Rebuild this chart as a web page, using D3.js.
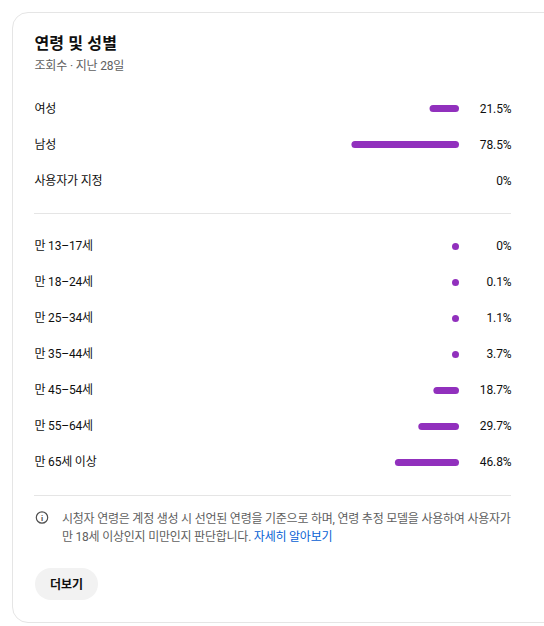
<!DOCTYPE html>
<html lang="ko"><head><meta charset="utf-8">
<script src="https://cdn.jsdelivr.net/npm/d3@7"></script>
<style>
html,body{margin:0;padding:0;background:#fff;overflow:hidden}
text{font-family:Roboto,"Noto Sans CJK KR",sans-serif}
</style></head><body>
<svg id="c" width="544" height="626"></svg>
<script>
const genderLabels = ["여성","남성","사용자가 지정"];
const genderValues = [21.5,78.5,0];
const genderText = ["21.5%","78.5%","0%"];
const ageLabels = ["만 13–17세","만 18–24세","만 25–34세","만 35–44세","만 45–54세","만 55–64세","만 65세 이상"];
const ageValues = [0,0.1,1.1,3.7,18.7,29.7,46.8];
const ageText = ["0%","0.1%","1.1%","3.7%","18.7%","29.7%","46.8%"];
const titleText = "연령 및 성별";
const subtitleText = "조회수 · 지난 28일";
const noteLine1 = "시청자 연령은 계정 생성 시 선언된 연령을 기준으로 하며, 연령 추정 모델을 사용하여 사용자가";
const noteLine2 = "만 18세 이상인지 미만인지 판단합니다. ";
const noteLink = "자세히 알아보기";
const buttonText = "더보기";

const svg = d3.select("#c");
const purple = "#9130bd", rule = "#e5e5e5";
const x = d3.scaleLinear().domain([0,100]).range([0,137]);
const barRight = 459, barH = 7, minW = 7, labelX = 34.5, valueX = 511.5;

svg.append("path").attr("d","M560 12.5H28A15.5 15.5 0 0 0 12.5 28V607A15.5 15.5 0 0 0 28 622.5H560")
  .attr("fill","#fff").attr("stroke","#e5e5e5");

svg.append("text").attr("x",labelX).attr("y",49).attr("font-size",16).attr("font-weight",700).attr("letter-spacing",0.15).attr("fill","#0f0f0f").text(titleText);
svg.append("text").attr("x",labelX).attr("y",69.5).attr("font-size",12).attr("letter-spacing",-0.18).attr("fill","#606060").text(subtitleText);

function rows(labels, values, texts, y0, ty, name){
  const data = labels.map((l,i)=>({l,v:values[i],t:texts[i]}));
  const y = d3.scalePoint().domain(labels).range([y0, y0+36*(labels.length-1)]);
  const g = svg.append("g").attr("class",name).selectAll("g").data(data).join("g");
  g.append("text").attr("x",labelX).attr("y",d=>y(d.l)+ty).attr("font-size",12).attr("letter-spacing",-0.2).attr("fill","#0f0f0f").text(d=>d.l);
  g.filter(d=>d.t!=="0%"||name==="age").append("rect")
    .attr("x",d=>barRight-Math.max(minW,x(d.v))).attr("y",d=>y(d.l)-3)
    .attr("width",d=>Math.max(minW,x(d.v))).attr("height",barH).attr("rx",3.5).attr("fill",purple);
  g.append("text").attr("x",valueX).attr("y",d=>y(d.l)+ty).attr("text-anchor","end").attr("font-size",12).attr("letter-spacing",-0.1).attr("fill","#0f0f0f").text(d=>d.t);
}
rows(genderLabels,genderValues,genderText,108,5,"gender");
rows(ageLabels,ageValues,ageText,246,4,"age");

[213.5,495.5].forEach(yy=>svg.append("line").attr("x1",34).attr("x2",511).attr("y1",yy).attr("y2",yy).attr("stroke",rule));

const ic = svg.append("g").attr("transform","translate(42,517.5)");
ic.append("circle").attr("r",5.7).attr("fill","none").attr("stroke","#4f4f4f").attr("stroke-width",1.2);
ic.append("text").attr("text-anchor","middle").attr("y",3).attr("font-size",8).attr("font-weight",700).attr("fill","#4f4f4f").text("i");

svg.append("text").attr("x",62).attr("y",522.5).attr("font-size",12).attr("letter-spacing",-0.23).attr("fill","#606060").text(noteLine1);
const l2 = svg.append("text").attr("x",62).attr("y",540.5).attr("font-size",12).attr("letter-spacing",-0.23).attr("fill","#606060").style("white-space","pre");
l2.append("tspan").text(noteLine2);
l2.append("tspan").attr("fill","#065fd4").text(noteLink);

svg.append("rect").attr("x",35).attr("y",568).attr("width",63).attr("height",32).attr("rx",16).attr("fill","#f2f2f2");
svg.append("text").attr("x",66.5).attr("y",588.5).attr("text-anchor","middle").attr("font-size",12).attr("font-weight",700).attr("fill","#0f0f0f").text(buttonText);
</script></body></html>
